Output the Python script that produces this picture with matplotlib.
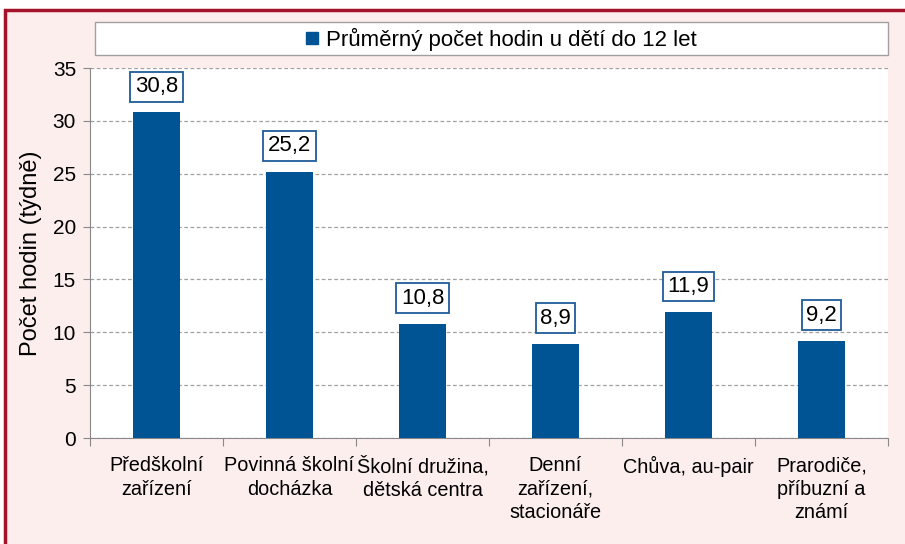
import matplotlib.pyplot as plt
from matplotlib.patches import Rectangle
from matplotlib.lines import Line2D

plt.rcParams['font.family'] = ['Liberation Sans', 'DejaVu Sans']

categories = ["Předškolní\nzařízení", "Povinná školní\ndocházka", "Školní družina,\ndětská centra",
              "Denní\nzařízení,\nstacionáře", "Chůva, au-pair", "Prarodiče,\npříbuzní a\nznámí"]
values = [30.8, 25.2, 10.8, 8.9, 11.9, 9.2]
value_labels = ["30,8", "25,2", "10,8", "8,9", "11,9", "9,2"]
series_name = "Průměrný počet hodin u dětí do 12 let"
y_ticks = [0, 5, 10, 15, 20, 25, 30, 35]

bar_color = "#005493"
fig = plt.figure(figsize=(9.05, 5.44), dpi=100, facecolor="white")

# pink panel with dark red frame
fig.patches.append(Rectangle((5/905, -0.05), 1.0, 1 - 10/544 + 0.05, transform=fig.transFigure,
                             facecolor="#fdeeee", edgecolor="#a3132a", linewidth=2.5, zorder=-10))

ax = fig.add_axes([90/905, 1 - 438/544, 798/905, 370/544])
ax.set_facecolor("white")
x = list(range(len(values)))
ax.bar(x, values, width=0.35, color=bar_color, zorder=3)

for xi, v, lab in zip(x, values, value_labels):
    ax.annotate(lab, (xi, v), xytext=(0, 18.5), textcoords="offset points", ha="center", va="center",
                fontsize=16, zorder=4,
                bbox=dict(boxstyle="square,pad=0.2", facecolor="white", edgecolor="#1f5c99", linewidth=1.3))

ax.set_xlim(-0.5, len(values) - 0.5)
ax.set_ylim(0, 35)
ax.set_yticks(y_ticks)
ax.set_yticklabels([str(t) for t in y_ticks], fontsize=15)
ax.yaxis.grid(True, linestyle=(0, (3, 2)), color="#a0a0a0", linewidth=0.9, zorder=1)
ax.set_axisbelow(True)
ax.set_xticks([i - 0.5 for i in range(len(values) + 1)])
ax.set_xticklabels([])
ax.set_xticks(x, minor=True)
ax.set_xticklabels(categories, minor=True, fontsize=14.3, linespacing=1.3)
ax.tick_params(axis="x", which="minor", length=0, pad=13)
ax.tick_params(axis="x", which="major", length=6, color="#888888")
ax.tick_params(axis="y", length=5, color="#888888", pad=5)
ax.set_ylabel("Počet hodin (týdně)", fontsize=17, labelpad=8)
for s in ["top", "right"]:
    ax.spines[s].set_visible(False)
for s in ["left", "bottom"]:
    ax.spines[s].set_color("#888888")

# legend box
fig.patches.append(Rectangle((95/905, 1 - 55/544), 793/905, 33/544, transform=fig.transFigure,
                             facecolor="white", edgecolor="#a0a0a0", linewidth=1, zorder=1))
handle = Line2D([], [], marker="s", color=bar_color, markersize=9, linewidth=0)
fig.legend(handles=[handle], labels=[series_name], loc="center", bbox_to_anchor=(0.553, 1 - 39/544),
           frameon=False, fontsize=16, handlelength=0.7, handletextpad=0.3)

fig.savefig("out.png", dpi=100, facecolor=fig.get_facecolor())
